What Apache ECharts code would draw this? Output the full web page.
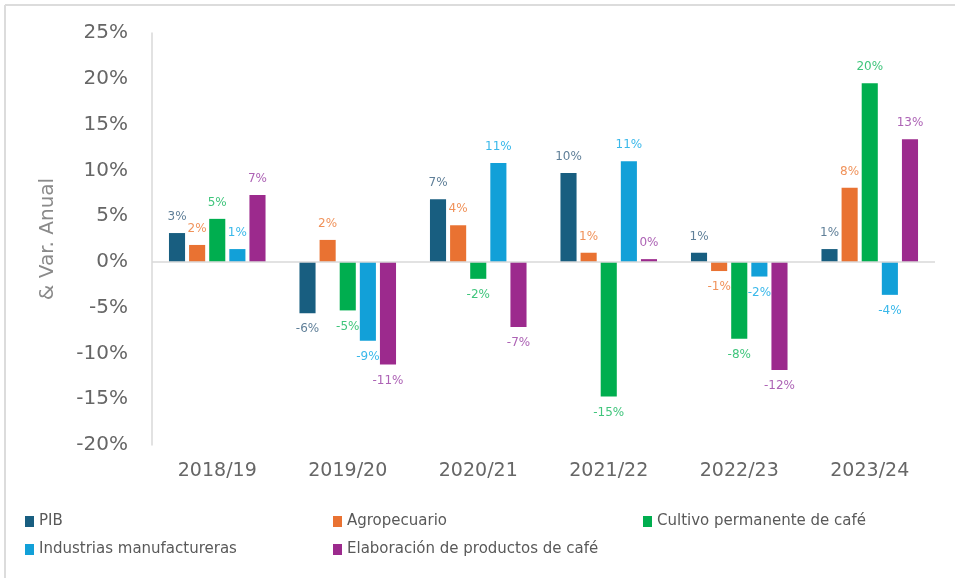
<!DOCTYPE html>
<html>
<head>
<meta charset="utf-8">
<script src="https://cdn.jsdelivr.net/npm/echarts@6/dist/echarts.min.js"></script>
<style>
html, body { margin: 0; padding: 0; background: #fff; }
#chart { width: 955px; height: 578px; }
</style>
</head>
<body>
<div id="chart"></div>
<script>
var categories = ['2018/19', '2019/20', '2020/21', '2021/22', '2022/23', '2023/24'];
var pib        = [3.15, -5.6, 6.85, 9.7, 1.0, 1.4];
var agro       = [1.85, 2.4, 4.0, 1.0, -1.0, 8.1];
var cultivo    = [4.7, -5.3, -1.85, -14.7, -8.4, 19.5];
var industrias = [1.4, -8.6, 10.8, 11.0, -1.6, -3.6];
var elab       = [7.3, -11.2, -7.1, 0.3, -11.8, 13.4];

var names = ['PIB', 'Agropecuario', 'Cultivo permanente de café',
             'Industrias manufactureras', 'Elaboración de productos de café'];
var colors = ['#185e80', '#e97232', '#00ae4f', '#12a0d8', '#9c2a8d'];
var labelColors = ['#5f7f98', '#f0925a', '#40c57c', '#3ab8ea', '#ad63b5'];
var allData = [pib, agro, cultivo, industrias, elab];

var font = 'DejaVu Sans';

function draw_barchart(id){
    var myChart = echarts.init(document.getElementById(id));
    var series = allData.map(function (arr, i) {
        var s = {
            name: names[i],
            type: 'bar',
            barGap: '25%',
            barCategoryGap: '26%',
            itemStyle: {color: colors[i]},
            label: {
                show: true,
                distance: 10,
                color: labelColors[i],
                fontFamily: font,
                fontSize: 12,
                formatter: function (p) {
                    return Math.round(p.value) + '%';
                }
            },
            data: arr.map(function (v) {
                return {value: v, label: {position: v < 0 ? 'bottom' : 'top'}};
            })
        };
        if (i === 0) {
            // linea del cero
            s.markLine = {
                silent: true,
                symbol: ['none', 'none'],
                label: {show: false},
                lineStyle: {color: '#d9d9d9', type: 'solid', width: 1.5},
                data: [{yAxis: 0}]
            };
        }
        return s;
    });

    var legendText = {color: '#595959', fontFamily: font, fontSize: 15};
    var option = {
        animation: false,
        graphic: [
            {type: 'line', shape: {x1: 5, y1: 5, x2: 955, y2: 5},
             style: {stroke: '#dcdcdc', lineWidth: 2}, silent: true},
            {type: 'line', shape: {x1: 5, y1: 5, x2: 5, y2: 578},
             style: {stroke: '#dcdcdc', lineWidth: 2}, silent: true}
        ],
        grid: {left: 152, right: 20, top: 33, bottom: 133},
        legend: [
            {left: 20, top: 509, orient: 'vertical', itemGap: 13, itemWidth: 9, itemHeight: 11,
             icon: 'rect', textStyle: legendText, data: [names[0], names[3]]},
            {left: 328, top: 509, orient: 'vertical', itemGap: 13, itemWidth: 9, itemHeight: 11,
             icon: 'rect', textStyle: legendText, data: [names[1], names[4]]},
            {left: 638, top: 509, orient: 'vertical', itemGap: 13, itemWidth: 9, itemHeight: 11,
             icon: 'rect', textStyle: legendText, data: [names[2]]}
        ],
        xAxis: {
            type: 'category',
            data: categories,
            axisLine: {show: false},
            axisTick: {show: false},
            axisLabel: {color: '#666666', fontFamily: font, fontSize: 19, margin: 17}
        },
        yAxis: {
            type: 'value',
            min: -20,
            max: 25,
            interval: 5,
            name: '& Var. Anual',
            nameLocation: 'middle',
            nameGap: 94,
            nameTextStyle: {color: '#8a8a8a', fontFamily: font, fontSize: 20},
            axisLine: {show: true, lineStyle: {color: '#d9d9d9', width: 1.5}},
            axisTick: {show: false},
            splitLine: {show: false},
            axisLabel: {color: '#666666', fontFamily: font, fontSize: 20, margin: 24,
                        formatter: '{value}%'}
        },
        series: series
    };
    myChart.setOption(option);
}

draw_barchart('chart');
</script>
</body>
</html>
